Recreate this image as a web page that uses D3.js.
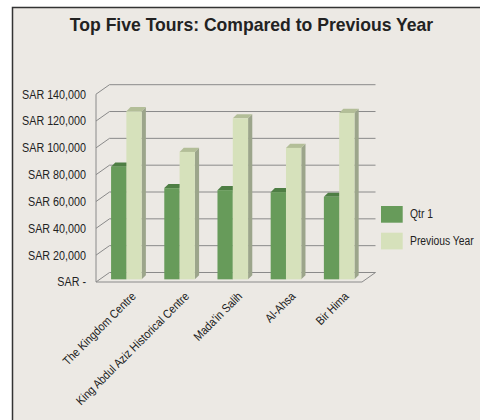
<!DOCTYPE html>
<meta charset="utf-8">
<style>
    body { margin: 0; background: #fff; }
    text { font-family: "Liberation Sans", Arial, sans-serif; fill: #222; }
    .title { font-size: 18.5px; font-weight: bold; text-anchor: middle; }
    .tick { font-size: 12.5px; text-anchor: end; }
    .cat { font-size: 12px; text-anchor: end; }
    .legend { font-size: 12px; }
    .grid { stroke: #8a8a8a; stroke-width: 1; fill: none; }
</style>
<svg width="480" height="420"></svg>
<script src="https://d3js.org/d3.v7.min.js"></script>
<script>

    var tours = ["The Kingdom Centre", "King Abdul Aziz Historical Centre", "Mada'in Salih", "Al-Ahsa", "Bir Hima"];
    var qtr1 = [84000, 68000, 66500, 65000, 61500];
    var prevYear = [125300, 95000, 120000, 98000, 124000];
    var yTicks = [0, 20000, 40000, 60000, 80000, 100000, 120000, 140000];
    var seriesNames = ["Qtr 1", "Previous Year"];

    var svg = d3.select("svg");

    // no narrow font installed, so squeeze the glyphs instead
    function condense(sel, k) {
        sel.each(function () {
            var w = this.getComputedTextLength();
            d3.select(this).attr("textLength", w * k).attr("lengthAdjust", "spacingAndGlyphs");
        });
    }

    // chart frame
    svg.append("rect")
        .attr("x", 12.5).attr("y", 7.5)
        .attr("width", 480).attr("height", 430)
        .attr("fill", "#ece9e4")
        .attr("stroke", "#333")
        .attr("stroke-width", 1.5);

    svg.append("text")
        .attr("class", "title")
        .attr("x", 251.5).attr("y", 31)
        .text("Top Five Tours: Compared to Previous Year")
        .call(condense, 0.95);

    // depth of the 3d box (back wall offset)
    var dx = 13.5, dy = -9.5;

    var x = d3.scaleBand().domain(tours).range([96, 362]);
    var yFront = d3.scaleLinear().domain([0, 140000]).range([282, 94.2]);
    var yBack = function (v) { return yFront(v) + dy; };

    var g = svg.append("g");

    // gridlines on the back wall + left wall diagonals
    yTicks.forEach(function (v) {
        g.append("path")
            .attr("class", "grid")
            .attr("d", "M" + x.range()[0] + "," + yFront(v) +
                "L" + (x.range()[0] + dx) + "," + yBack(v) +
                "L" + (x.range()[1] + dx) + "," + yBack(v));
    });
    // left front edge
    g.append("line").attr("class", "grid")
        .attr("x1", x.range()[0]).attr("x2", x.range()[0])
        .attr("y1", yFront(0)).attr("y2", yFront(140000));
    // floor front edge and right side
    g.append("path").attr("class", "grid")
        .attr("d", "M" + x.range()[0] + "," + yFront(0) +
            "L" + x.range()[1] + "," + yFront(0) +
            "L" + (x.range()[1] + dx) + "," + yBack(0));

    // tick labels
    svg.selectAll(".tick")
        .data(yTicks)
        .enter().append("text")
        .attr("class", "tick")
        .attr("x", 86)
        .attr("y", function (d) { return yFront(d); })
        .attr("dy", "0.35em")
        .text(function (d) { return d === 0 ? "SAR -" : "SAR " + d3.format(",")(d); })
        .call(condense, 0.86);

    // bars
    var bw = 15.3, f = 0.28, bdx = 4.2, bdy = -4.2;
    var offX = f * dx, offY = f * dy;
    var colors = [
        { front: "#679b5a", top: "#4e7e44", side: "#4a7040" },
        { front: "#d6e1bb", top: "#b3be98", side: "#9ca58b" }
    ];
    var series = [qtr1, prevYear];

    tours.forEach(function (t, i) {
        var x0 = x(t) + (x.bandwidth() - 2 * bw) / 2 + offX;
        series.forEach(function (s, j) {
            var c = colors[j];
            var bx = x0 + j * bw;
            var by0 = yFront(0) + offY;
            var by1 = yFront(s[i]) + offY;
            // side face
            g.append("path")
                .attr("fill", c.side)
                .attr("d", "M" + (bx + bw) + "," + by1 + "L" + (bx + bw + bdx) + "," + (by1 + bdy) +
                    "L" + (bx + bw + bdx) + "," + (by0 + bdy) + "L" + (bx + bw) + "," + by0 + "Z");
            // top face
            g.append("path")
                .attr("fill", c.top)
                .attr("d", "M" + bx + "," + by1 + "L" + (bx + bdx) + "," + (by1 + bdy) +
                    "L" + (bx + bw + bdx) + "," + (by1 + bdy) + "L" + (bx + bw) + "," + by1 + "Z");
            // front face
            g.append("rect")
                .attr("fill", c.front)
                .attr("x", bx).attr("y", by1)
                .attr("width", bw).attr("height", by0 - by1);
        });
    });

    // category labels
    svg.selectAll(".cat")
        .data(tours)
        .enter().append("text")
        .attr("class", "cat")
        .attr("transform", function (d) {
            return "translate(" + (x(d) + x.bandwidth() / 2 + 14) + ",297) rotate(-45)";
        })
        .text(function (d) { return d; })
        .call(condense, 0.88);

    // legend
    var legend = svg.selectAll(".leg")
        .data(seriesNames)
        .enter().append("g")
        .attr("transform", function (d, i) { return "translate(381," + (206 + i * 26.7) + ")"; });
    legend.append("rect")
        .attr("width", 21.7).attr("height", 16.7)
        .attr("fill", function (d, i) { return colors[i].front; });
    legend.append("text")
        .attr("class", "legend")
        .attr("x", 29).attr("y", 12.3)
        .text(function (d) { return d; })
        .call(condense, 0.86);

</script>
